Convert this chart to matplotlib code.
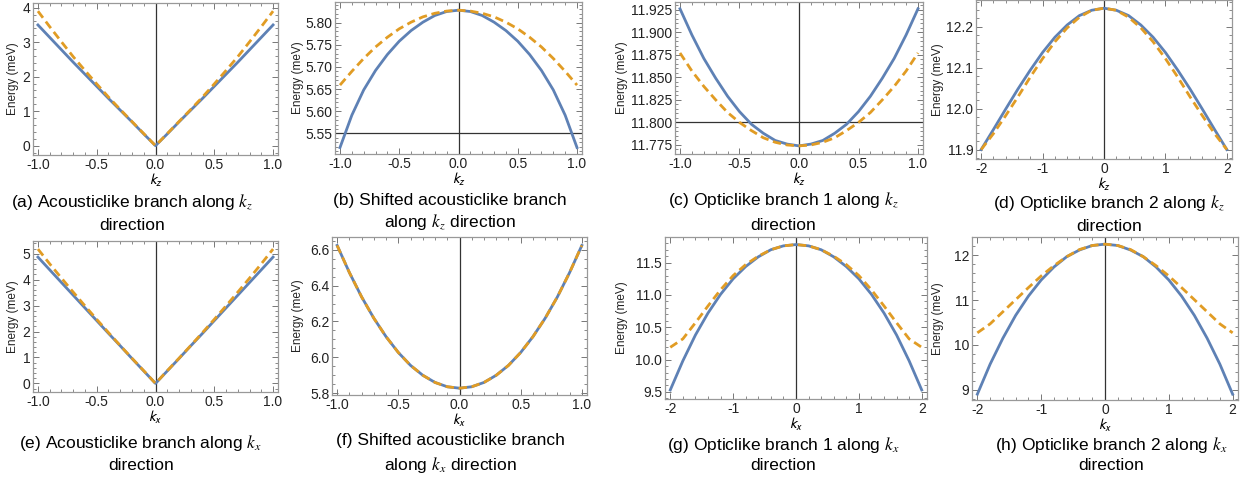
import numpy as np
import matplotlib
matplotlib.use("Agg")
import matplotlib.pyplot as plt
from matplotlib.ticker import MultipleLocator, FormatStrFormatter

plt.rcParams['font.family'] = ['Liberation Sans', 'DejaVu Sans']
plt.rcParams['mathtext.fontset'] = 'stix'

W, H = 1247, 478
BLUE = '#5e81b5'
ORANGE = '#e19c24'

# k grids
k1 = [-1.0, -0.9, -0.8, -0.7, -0.6, -0.5, -0.4, -0.3, -0.2, -0.1, 0.0,
      0.1, 0.2, 0.3, 0.4, 0.5, 0.6, 0.7, 0.8, 0.9, 1.0]
k2 = [-2.0, -1.8, -1.6, -1.4, -1.2, -1.0, -0.8, -0.6, -0.4, -0.2, 0.0,
      0.2, 0.4, 0.6, 0.8, 1.0, 1.2, 1.4, 1.6, 1.8, 2.0]

# (a) acousticlike, k_z
a_blue = [3.50, 3.14, 2.78, 2.42, 2.07, 1.72, 1.37, 1.03, 0.69, 0.34, 0.0,
          0.34, 0.69, 1.03, 1.37, 1.72, 2.07, 2.42, 2.78, 3.14, 3.50]
a_orange = [3.90, 3.45, 3.01, 2.58, 2.18, 1.79, 1.41, 1.05, 0.70, 0.35, 0.0,
            0.35, 0.70, 1.05, 1.41, 1.79, 2.18, 2.58, 3.01, 3.45, 3.90]
# (b) shifted acousticlike, k_z
b_blue = [5.518, 5.591, 5.648, 5.692, 5.728, 5.758, 5.782, 5.801, 5.816, 5.825, 5.828,
          5.825, 5.816, 5.801, 5.782, 5.758, 5.728, 5.692, 5.648, 5.591, 5.518]
b_orange = [5.659, 5.690, 5.719, 5.745, 5.767, 5.786, 5.801, 5.813, 5.821, 5.826, 5.828,
            5.826, 5.821, 5.813, 5.801, 5.786, 5.767, 5.745, 5.719, 5.690, 5.659]
# (c) opticlike 1, k_z
c_blue = [11.926, 11.897, 11.871, 11.849, 11.829, 11.812, 11.798, 11.788, 11.780, 11.776, 11.774,
          11.776, 11.780, 11.788, 11.798, 11.812, 11.829, 11.849, 11.871, 11.897, 11.926]
c_orange = [11.877, 11.857, 11.840, 11.825, 11.811, 11.800, 11.791, 11.783, 11.778, 11.775, 11.774,
            11.775, 11.778, 11.783, 11.791, 11.800, 11.811, 11.825, 11.840, 11.857, 11.877]
# (d) opticlike 2, k_z
d_blue = [11.900, 11.949, 11.999, 12.048, 12.094, 12.137, 12.174, 12.204, 12.227, 12.240, 12.245,
          12.240, 12.227, 12.204, 12.174, 12.137, 12.094, 12.048, 11.999, 11.949, 11.900]
d_orange = [11.900, 11.939, 11.983, 12.029, 12.077, 12.122, 12.163, 12.197, 12.223, 12.240, 12.245,
            12.240, 12.223, 12.197, 12.163, 12.122, 12.077, 12.029, 11.983, 11.939, 11.900]
# (e) acousticlike, k_x
e_blue = [4.87, 4.38, 3.89, 3.40, 2.91, 2.42, 1.93, 1.45, 0.96, 0.48, 0.0,
          0.48, 0.96, 1.45, 1.93, 2.42, 2.91, 3.40, 3.89, 4.38, 4.87]
e_orange = [5.18, 4.61, 4.06, 3.52, 2.99, 2.47, 1.96, 1.46, 0.97, 0.49, 0.0,
            0.49, 0.97, 1.46, 1.96, 2.47, 2.99, 3.52, 4.06, 4.61, 5.18]
# (f) shifted acousticlike, k_x
f_blue = [6.624, 6.473, 6.337, 6.218, 6.115, 6.027, 5.955, 5.900, 5.860, 5.836, 5.828,
          5.836, 5.860, 5.900, 5.955, 6.027, 6.115, 6.218, 6.337, 6.473, 6.624]
f_orange = [6.624, 6.473, 6.337, 6.218, 6.115, 6.027, 5.955, 5.900, 5.860, 5.836, 5.828,
            5.836, 5.860, 5.900, 5.955, 6.027, 6.115, 6.218, 6.337, 6.473, 6.624]
# (g) opticlike 1, k_x
g_blue = [9.53, 9.98, 10.38, 10.72, 11.01, 11.25, 11.44, 11.59, 11.70, 11.76, 11.78,
          11.76, 11.70, 11.59, 11.44, 11.25, 11.01, 10.72, 10.38, 9.98, 9.53]
g_orange = [10.19, 10.32, 10.57, 10.83, 11.08, 11.30, 11.47, 11.60, 11.70, 11.76, 11.78,
            11.76, 11.70, 11.60, 11.47, 11.30, 11.08, 10.83, 10.57, 10.32, 10.19]
# (h) opticlike 2, k_x
h_blue = [8.90, 9.57, 10.15, 10.66, 11.09, 11.45, 11.74, 11.97, 12.12, 12.22, 12.25,
          12.22, 12.12, 11.97, 11.74, 11.45, 11.09, 10.66, 10.15, 9.57, 8.90]
h_orange = [10.27, 10.47, 10.74, 11.01, 11.28, 11.54, 11.77, 11.97, 12.13, 12.22, 12.25,
            12.22, 12.13, 11.97, 11.77, 11.54, 11.28, 11.01, 10.74, 10.47, 10.27]

captions = [
    ["(a) Acousticlike branch along $k_z$", "direction"],
    ["(b) Shifted acousticlike branch", "along $k_z$ direction"],
    ["(c) Opticlike branch 1 along $k_z$", "direction"],
    ["(d) Opticlike branch 2 along $k_z$", "direction"],
    ["(e) Acousticlike branch along $k_x$", "direction"],
    ["(f) Shifted acousticlike branch", "along $k_x$ direction"],
    ["(g) Opticlike branch 1 along $k_x$", "direction"],
    ["(h) Opticlike branch 2 along $k_x$", "direction"],
]

# panel layout in pixels: left, top, right, bottom
boxes = [(33, 3, 278, 155), (335, 2, 582, 154), (675, 2, 923, 154), (976, 0, 1232, 159),
         (33, 241, 278, 392), (332, 237, 587, 395), (665, 237, 927, 399), (972, 237, 1238, 400)]
ylims = [(-0.27, 4.136), (5.5035, 5.8465), (11.765, 11.9335), (11.877, 12.265),
         (-0.33, 5.49), (5.79, 6.671), (9.39, 11.897), (8.77, 12.41)]
ymaj = [1, 0.05, 0.025, 0.1, 1, 0.2, 0.5, 1]
ymin = [0.2, 0.01, 0.005, 0.02, 0.2, 0.05, 0.1, 0.2]
yfmt = ['%d', '%.2f', '%.3f', '%.1f', '%d', '%.1f', '%.1f', '%d']
hline = [None, 5.55, 11.80, None, None, None, None, None]
cap_x = [132, 450, 783, 1109, 141, 450, 783, 1111]
cap_y = [(202, 225), (200, 222), (200, 225), (203, 226),
         (443, 465), (441, 465), (445, 466), (445, 466)]
ylab_x = [13, 298, 622, 938, 13, 298, 622, 938]

series = [(k1, a_blue, a_orange), (k1, b_blue, b_orange), (k1, c_blue, c_orange),
          (k2, d_blue, d_orange), (k1, e_blue, e_orange), (k1, f_blue, f_orange),
          (k2, g_blue, g_orange), (k2, h_blue, h_orange)]
xlabels = [r'$\mathsf{k}_\mathsf{z}$'] * 4 + [r'$\mathsf{k}_\mathsf{x}$'] * 4

fig = plt.figure(figsize=(W / 100, H / 100), dpi=100)

for i in range(8):
    l, t, r, b = boxes[i]
    ax = fig.add_axes([l / W, 1 - b / H, (r - l) / W, (b - t) / H])
    k, eb, eo = series[i]
    ax.plot(k, eb, color=BLUE, lw=2.0, solid_joinstyle='round', zorder=3)
    ax.plot(k, eo, color=ORANGE, lw=2.0, dashes=(3.0, 1.7), zorder=4)
    ax.axvline(0, color='#333333', lw=0.9, zorder=2)
    if hline[i] is not None:
        ax.axhline(hline[i], color='#333333', lw=0.9, zorder=2)

    kmax = max(k)
    pad = 0.042 * kmax
    ax.set_xlim(-kmax - pad, kmax + pad)
    ax.set_ylim(*ylims[i])
    if kmax == 1.0:
        ax.xaxis.set_major_locator(MultipleLocator(0.5))
        ax.xaxis.set_minor_locator(MultipleLocator(0.1))
        ax.xaxis.set_major_formatter(FormatStrFormatter('%.1f'))
    else:
        ax.xaxis.set_major_locator(MultipleLocator(1))
        ax.xaxis.set_minor_locator(MultipleLocator(0.2))
        ax.xaxis.set_major_formatter(FormatStrFormatter('%d'))
    ax.yaxis.set_major_locator(MultipleLocator(ymaj[i]))
    ax.yaxis.set_minor_locator(MultipleLocator(ymin[i]))
    ax.yaxis.set_major_formatter(FormatStrFormatter(yfmt[i]))
    ax.tick_params(which='both', direction='in', top=True, right=True,
                   color='#777777', labelsize=10, labelcolor='#222222', pad=2)
    ax.tick_params(which='major', length=4.5, width=0.7)
    ax.tick_params(which='minor', length=2.5, width=0.6)
    for s in ax.spines.values():
        s.set_color('#999999')
        s.set_linewidth(0.9)

    fig.text(((l + r) / 2) / W, 1 - (b + 25) / H, xlabels[i],
             ha='center', va='center', fontsize=10.5)
    fig.text(ylab_x[i] / W, 1 - ((t + b) / 2) / H, 'Energy (meV)', rotation=90,
             ha='center', va='center', fontsize=8.5, color='#222222')
    line1, line2 = captions[i]
    fig.text(cap_x[i] / W, 1 - cap_y[i][0] / H, line1, ha='center', va='center', fontsize=12.5)
    fig.text(cap_x[i] / W, 1 - cap_y[i][1] / H, line2, ha='center', va='center', fontsize=12.5)

fig.savefig('out.png', dpi=100)
